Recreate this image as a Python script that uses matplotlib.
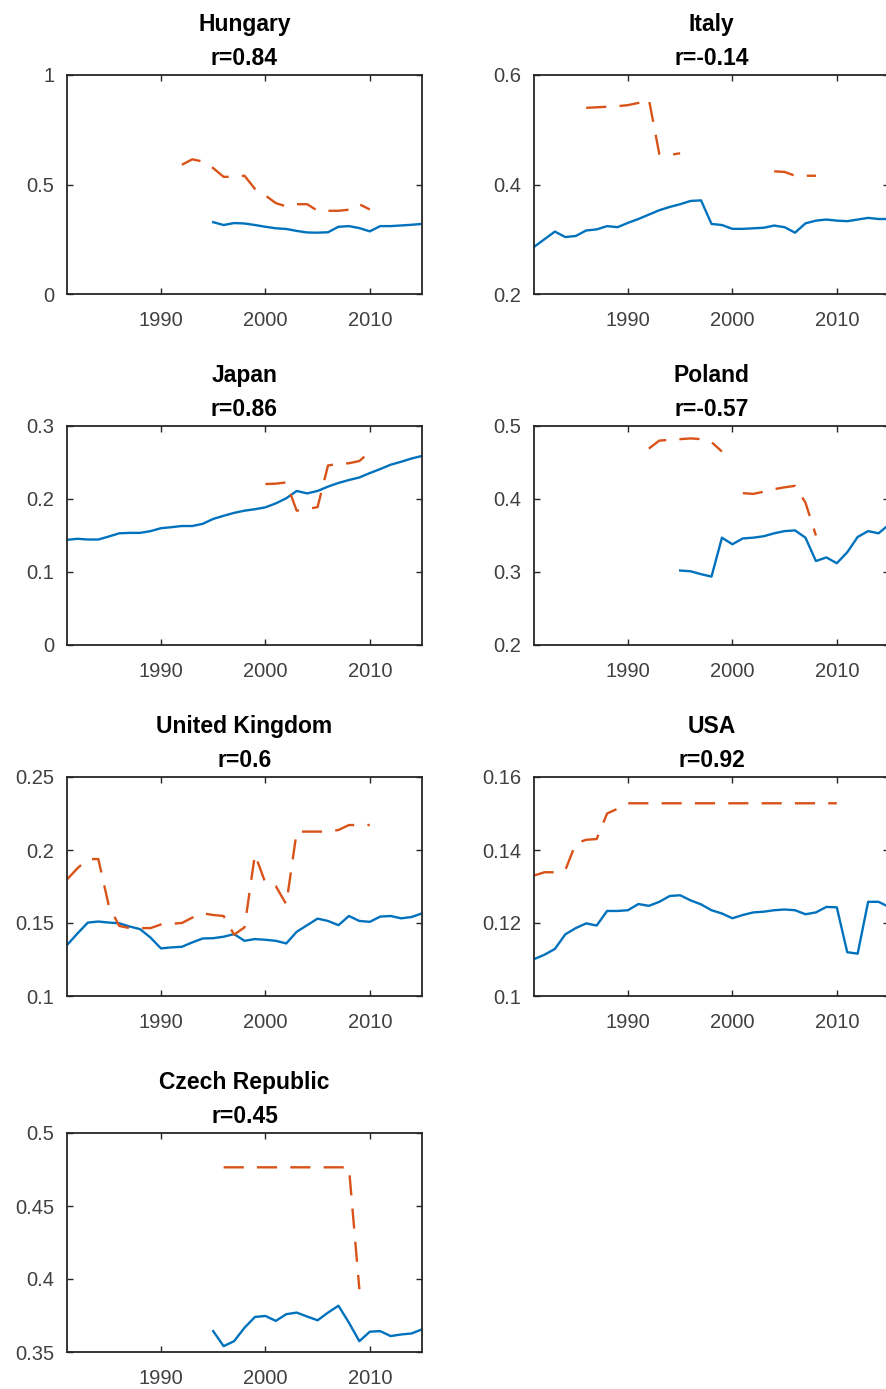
import numpy as np
import matplotlib
matplotlib.use("Agg")
import matplotlib.pyplot as plt
from matplotlib.ticker import FormatStrFormatter

nan = np.nan

YEARS = np.arange(1981, 2016)

# one value per year 1981..2015, nan where there is no data
hungary_est = [nan] * 14 + [
    0.328, 0.315, 0.324, 0.322, 0.315, 0.307, 0.300, 0.297, 0.288, 0.281, 0.280,
    0.282, 0.307, 0.310, 0.301, 0.286, 0.310, 0.310, 0.313, 0.316, 0.320,
]
hungary_ref = [nan] * 11 + [
    0.59, 0.615, 0.605, 0.575, 0.535, 0.535, 0.54, 0.48, 0.45, 0.415, 0.40,
    0.41, 0.41, 0.38, 0.38, 0.38, 0.385, 0.41, 0.386,
] + [nan] * 5

italy_est = [
    0.286, 0.300, 0.314, 0.304, 0.306, 0.316, 0.318, 0.324, 0.322, 0.330,
    0.337, 0.345, 0.353, 0.359, 0.364, 0.370, 0.371, 0.328, 0.326, 0.319,
    0.319, 0.320, 0.321, 0.325, 0.322, 0.312, 0.329, 0.334, 0.336, 0.334,
    0.333, 0.336, 0.339, 0.337, 0.337,
]
italy_ref = [nan] * 5 + [
    0.540, 0.541, 0.542, 0.543, 0.545, 0.549, 0.556, 0.456, 0.454, 0.457,
] + [nan] * 8 + [0.424, 0.423, 0.416, 0.416, 0.416] + [nan] * 7

japan_est = [
    0.144, 0.1455, 0.1445, 0.1445, 0.1486, 0.153, 0.1536, 0.1536, 0.156, 0.160,
    0.1614, 0.163, 0.163, 0.166, 0.1727, 0.177, 0.181, 0.184, 0.186, 0.1886,
    0.194, 0.201, 0.211, 0.2077, 0.211, 0.217, 0.222, 0.226, 0.2295, 0.2355,
    0.241, 0.247, 0.251, 0.2555, 0.259,
]
japan_ref = [nan] * 19 + [
    0.2205, 0.221, 0.2227, 0.184, 0.186, 0.189, 0.246, 0.248, 0.249, 0.252, 0.2645,
] + [nan] * 5

poland_est = [nan] * 14 + [
    0.302, 0.301, 0.297, 0.2937, 0.347, 0.338, 0.346, 0.347, 0.349, 0.353, 0.356,
    0.357, 0.347, 0.315, 0.320, 0.312, 0.327, 0.348, 0.356, 0.353, 0.365,
]
poland_ref = [nan] * 11 + [
    0.469, 0.480, 0.481, 0.482, 0.483, 0.482, 0.478, 0.465, nan,
    0.408, 0.407, 0.410, 0.4135, 0.416, 0.418, 0.395, 0.350,
] + [nan] * 7

uk_est = [
    0.1349, 0.1428, 0.1503, 0.151, 0.1503, 0.1498, 0.1476, 0.1458, 0.140, 0.1326,
    0.1333, 0.1337, 0.1367, 0.1394, 0.1396, 0.1406, 0.1424, 0.1378, 0.139, 0.1385,
    0.1378, 0.136, 0.144, 0.1485, 0.153, 0.1514, 0.1485, 0.1548, 0.1514, 0.1508,
    0.1544, 0.1548, 0.1532, 0.1541, 0.1566,
]
uk_ref = [
    0.1798, 0.1875, 0.1938, 0.1938, 0.162, 0.148, 0.1465, 0.1465, 0.1465, 0.149,
    0.1495, 0.150, 0.1537, 0.1566, 0.1555, 0.1548, 0.142, 0.147, 0.197, 0.1775,
    0.1752, 0.1628, 0.2126, 0.2126, 0.2126, 0.2126, 0.2137, 0.2171, 0.2171, 0.2171,
] + [nan] * 5

usa_est = [
    0.1101, 0.1113, 0.1129, 0.1169, 0.1186, 0.1199, 0.1193, 0.1233, 0.1233, 0.1235,
    0.1252, 0.1247, 0.1258, 0.1274, 0.1276, 0.1262, 0.1251, 0.1235, 0.1226, 0.1213,
    0.1222, 0.1229, 0.1231, 0.1235, 0.1237, 0.1235, 0.1224, 0.1229, 0.1244, 0.1243,
    0.112, 0.1116, 0.1258, 0.1258, 0.1244,
]
usa_ref = [
    0.133, 0.1339, 0.1339, 0.1345, 0.1418, 0.1428, 0.143, 0.150, 0.1513, 0.1528,
] + [0.1528] * 20 + [nan] * 5

czech_est = [nan] * 14 + [
    0.3643, 0.354, 0.3574, 0.3666, 0.374, 0.3747, 0.3713, 0.3759, 0.377, 0.3743,
    0.3717, 0.377, 0.3817, 0.3701, 0.3574, 0.3639, 0.3643, 0.3609, 0.362, 0.3627,
    0.3655,
]
czech_ref = [nan] * 15 + [0.4765] * 13 + [0.393] + [nan] * 6

countries = ["Hungary", "Italy", "Japan", "Poland", "United Kingdom", "USA",
             "Czech Republic"]
r_values = ["0.84", "-0.14", "0.86", "-0.57", "0.6", "0.92", "0.45"]
est_series = [hungary_est, italy_est, japan_est, poland_est, uk_est, usa_est, czech_est]
ref_series = [hungary_ref, italy_ref, japan_ref, poland_ref, uk_ref, usa_ref, czech_ref]
y_limits = [(0, 1), (0.2, 0.6), (0, 0.3), (0.2, 0.5), (0.1, 0.25), (0.1, 0.16),
            (0.35, 0.5)]
y_ticks = [
    [0, 0.5, 1],
    [0.2, 0.4, 0.6],
    [0, 0.1, 0.2, 0.3],
    [0.2, 0.3, 0.4, 0.5],
    [0.1, 0.15, 0.2, 0.25],
    [0.1, 0.12, 0.14, 0.16],
    [0.35, 0.4, 0.45, 0.5],
]
x_ticks = [1990, 2000, 2010]

BLUE = "#0072BD"
ORANGE = "#D95319"

plt.rcParams["font.family"] = ["Liberation Sans", "DejaVu Sans"]
plt.rcParams["lines.scale_dashes"] = False

W, H = 886, 1389
fig = plt.figure(figsize=(W / 100, H / 100), dpi=100)

# pixel boxes (left, top, width, height) of the subplot grid
col_left = [67, 534]
row_top = [75, 426, 777, 1133]
ax_w, ax_h = 355, 219

for i, name in enumerate(countries):
    row, col = divmod(i, 2)
    left = col_left[col]
    top = row_top[row]
    ax = fig.add_axes([left / W, 1 - (top + ax_h) / H, ax_w / W, ax_h / H])

    ax.plot(YEARS, est_series[i], color=BLUE, lw=1.7)
    ax.plot(YEARS, ref_series[i], color=ORANGE, lw=1.7, dashes=(14.5, 9.5))

    ax.set_xlim(1981, 2015)
    ax.set_ylim(*y_limits[i])
    ax.set_xticks(x_ticks)
    ax.set_yticks(y_ticks[i])
    ax.yaxis.set_major_formatter(FormatStrFormatter("%g"))

    ax.tick_params(direction="in", top=True, right=True, length=4, width=1,
                   color="#262626", labelsize=14.5, labelcolor="#404040")
    ax.tick_params(axis="y", pad=9)
    ax.tick_params(axis="x", pad=12.5)
    for spine in ax.spines.values():
        spine.set_linewidth(1.3)
        spine.set_color("#262626")

    ax.set_title(f"{name}\nr={r_values[i]}", fontsize=16.5, fontweight="bold",
                 linespacing=1.57, pad=7.5)

fig.savefig("out.png", dpi=100)
